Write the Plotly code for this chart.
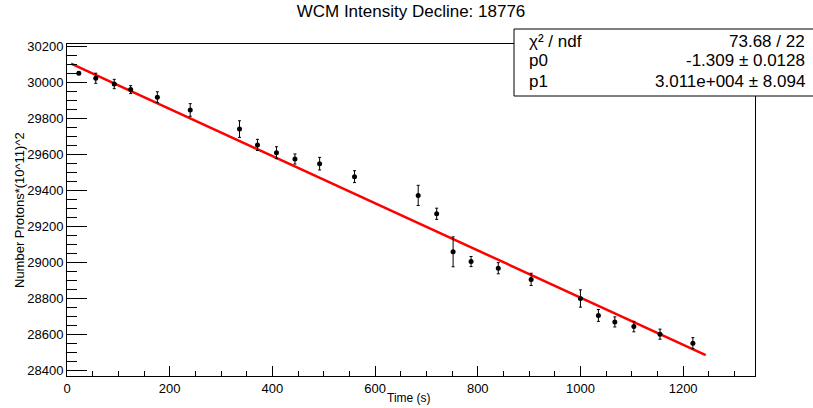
import plotly.graph_objects as go

# ---- data ----
time_s = [23, 56, 92, 124, 176, 240, 336, 371, 408, 444, 492, 560,
          684, 720, 752, 787, 840, 904, 1000, 1035, 1067, 1104, 1155, 1219]
protons = [30050, 30022, 29990, 29959, 29917, 29846, 29740, 29652, 29609,
           29574, 29548, 29476, 29372, 29270, 29059, 29005, 28968, 28906,
           28800, 28706, 28670, 28644, 28602, 28552]
errors = [8, 28, 26, 22, 30, 35, 46, 31, 33, 28, 35, 33, 56, 31, 83, 28,
          31, 34, 48, 33, 28, 29, 28, 31]

# fit parameters (p0 = slope, p1 = intercept) and fit range
fit_p0 = -1.309
fit_p1 = 30114
fit_range = [8, 1244]

stats_labels = ["χ² / ndf", "p0", "p1"]
stats_values = ["73.68 / 22", "-1.309 ± 0.0128", "3.011e+004 ± 8.094"]

title_text = "WCM Intensity Decline: 18776"
x_title = "Time (s)"
y_title = "Number Protons*(10^11)^2"

FONT = "Liberation Sans, Arial, Helvetica, sans-serif"

fit_y = [fit_p1 + fit_p0 * x for x in fit_range]

fig = go.Figure()
fig.add_trace(go.Scatter(
    x=fit_range, y=fit_y, mode="lines",
    line=dict(color="#ff0000", width=2.5), hoverinfo="skip", showlegend=False))
fig.add_trace(go.Scatter(
    x=time_s, y=protons, mode="markers",
    marker=dict(color="black", size=5),
    error_y=dict(type="data", array=errors, color="black", thickness=1, width=1.5),
    showlegend=False))

W, H = 813, 408
ml, mr, mt, mb = 67, 58, 44, 32
pw, ph = W - ml - mr, H - mt - mb

def px(x):
    return (x - ml) / pw

def py(y):
    return (H - mb - y) / ph

axis_common = dict(
    showline=True, linecolor="black", linewidth=1, mirror=True,
    showgrid=False, zeroline=False, ticks="inside", tickcolor="black",
    tickwidth=1, tickformat="d",
    tickfont=dict(family=FONT, size=13, color="black"),
)

fig.update_layout(
    width=W, height=H,
    margin=dict(l=ml, r=mr, t=mt, b=mb, autoexpand=False),
    paper_bgcolor="white", plot_bgcolor="white",
    font=dict(family=FONT, color="black"),
    title=dict(text=title_text, x=0.5, xref="paper", xanchor="center",
               y=1 - 11 / H, yref="container", yanchor="middle",
               font=dict(family=FONT, size=17, color="black")),
    xaxis=dict(range=[0, 1340], dtick=200, tick0=0, ticklen=10,
               minor=dict(ticks="inside", ticklen=5, dtick=50, tick0=0,
                          tickcolor="black", showgrid=False),
               **axis_common),
    yaxis=dict(range=[28370, 30212], dtick=200, tick0=28400, ticklen=20,
               minor=dict(ticks="inside", ticklen=10, dtick=50, tick0=28400,
                          tickcolor="black", showgrid=False),
               **axis_common),
)

annotations = [
    dict(text=x_title, x=px(409), y=py(398), xref="paper", yref="paper",
         xanchor="center", yanchor="middle", showarrow=False,
         font=dict(family=FONT, size=12, color="black")),
    dict(text=y_title, x=px(19), y=py(210), xref="paper", yref="paper",
         xanchor="center", yanchor="middle", showarrow=False, textangle=-90,
         font=dict(family=FONT, size=13, color="black")),
]

row_y = [42, 61, 81.5]
for lab, val, ry in zip(stats_labels, stats_values, row_y):
    annotations.append(dict(text=lab, x=px(527), y=py(ry), xref="paper", yref="paper",
                            xanchor="left", yanchor="middle", showarrow=False,
                            font=dict(family=FONT, size=17, color="black")))
    annotations.append(dict(text=val, x=px(807), y=py(ry), xref="paper", yref="paper",
                            xanchor="right", yanchor="middle", showarrow=False,
                            font=dict(family=FONT, size=17, color="black")))

fig.update_layout(annotations=annotations)

fig.add_shape(type="rect", xref="paper", yref="paper",
              x0=px(514), x1=px(830), y0=py(96), y1=py(29),
              fillcolor="white", line=dict(color="black", width=1), layer="above")

fig.write_html("out.html", config={"displayModeBar": False},
               post_script="document.body.style.margin='0';document.body.style.overflow='hidden';")
